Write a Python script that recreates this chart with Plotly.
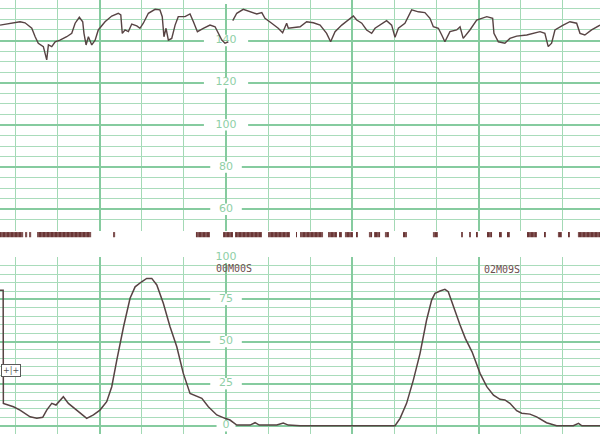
import plotly.graph_objects as go

# 태동/심박 기록지 재현 (x: 초, 0 = 00M00S)

# FHR (bpm)
fhr_t = [-107.4, -102.6, -97.9, -95.5, -92.3, -90.7, -89.2, -86.8, -85.2, -84.4,
         -82.8, -81.2, -78.9, -75.7, -73.3, -71.7, -69.7, -68.1, -67.5, -66.5,
         -65.4, -63.8, -62.2, -60.7, -57.5, -54.3, -51.2, -50.0, -49.3, -48.0,
         -46.4, -44.8, -42.4, -40.9, -39.3, -36.9, -33.7, -31.4, -30.3, -29.5,
         -28.5, -27.4, -25.8, -24.2, -22.7, -19.5, -17.1, -15.5, -13.6, -10.8,
         -7.6, -5.2, -3.7, -2.0, -0.5, 1.1, 2.2,
         3.2, 5.1, 8.2, 11.4, 14.6, 17.0, 18.5, 21.7, 24.8, 26.9,
         28.8, 29.6, 35.2, 38.3, 41.5, 44.7, 47.8, 49.7, 51.8, 55.0,
         58.1, 60.5, 62.1, 64.5, 66.8, 69.2, 70.8, 73.2, 76.3, 78.7,
         80.3, 81.9, 85.0, 88.2, 91.4, 94.5, 96.9, 98.5, 100.9, 102.5,
         104.0, 106.4, 109.6, 111.2, 112.7, 115.9, 119.1, 121.5, 123.9, 126.7,
         127.3, 129.4, 132.5, 134.9, 138.1, 142.9, 146.0, 149.2, 151.5, 153.1,
         154.7, 156.3, 160.2, 163.4, 166.6, 168.2, 170.5, 173.7, 177.7]
fhr_bpm = [147.3, 148.2, 148.9, 148.4, 145.8, 141.8, 138.7, 137.1, 130.8, 137.9,
           137.1, 139.4, 140.2, 141.8, 143.4, 148.2, 151.0, 148.9, 143.4, 137.9,
           141.8, 137.9, 140.2, 145.0, 148.9, 151.6, 152.9, 152.1, 143.4, 145.0,
           144.2, 147.8, 146.9, 145.8, 148.2, 152.9, 154.8, 154.5, 151.3, 141.8,
           145.8, 140.2, 141.0, 147.3, 151.3, 151.3, 152.6, 148.9, 144.2, 145.8,
           147.3, 146.5, 143.4, 140.2, 138.7, 139.4, None,
           149.4, 152.9, 154.8, 153.6, 152.6, 153.2, 150.5, 148.2, 145.8, 143.7,
           148.2, 145.8, 146.5, 148.9, 148.4, 147.3, 143.4, 139.4, 144.2, 147.3,
           149.7, 151.6, 149.7, 148.2, 145.0, 143.4, 145.8, 147.3, 149.4, 147.3,
           141.5, 145.8, 148.2, 154.5, 153.6, 153.2, 150.5, 146.5, 145.8, 142.6,
           139.4, 144.2, 145.0, 146.5, 141.0, 145.0, 149.7, 150.5, 151.3, 150.5,
           143.4, 139.4, 138.7, 141.0, 142.1, 142.6, 143.4, 144.2, 143.4, 137.1,
           138.7, 145.0, 147.3, 148.9, 148.2, 143.4, 142.6, 145.0, 147.3]

# UA (자궁수축)
ua_t = [-107.4, -105.9, -105.8, -101.0, -97.9, -93.1, -89.9, -87.1, -85.2, -82.8,
        -80.8, -78.9, -77.3, -74.9, -70.9, -66.2, -63.0, -59.9, -56.7, -54.3,
        -51.9, -48.7, -45.6, -43.2, -40.1, -37.7, -35.3, -32.9, -29.8, -26.6,
        -23.4, -20.3, -17.1, -13.9, -11.5, -8.4, -4.4, -0.5, 1.9, 5.1,
        11.4, 13.8, 15.8, 24.1, 27.2, 29.6, 35.2, 80.3, 82.7, 85.8,
        89.0, 92.2, 95.3, 97.7, 99.3, 101.7, 104.0, 105.6, 108.0, 111.2,
        113.7, 116.9, 120.7, 123.9, 127.1, 130.2, 132.5, 134.9, 138.1, 140.5,
        144.4, 147.6, 152.3, 157.1, 165.0, 167.5, 169.1, 177.7]
ua_val = [80.5, 80.5, 13.3, 11.3, 9.3, 5.3, 4.4, 5.0, 9.3, 13.3,
          12.3, 15.3, 17.2, 13.3, 9.3, 4.4, 6.4, 9.3, 14.3, 23.2,
          39.0, 58.8, 75.7, 82.5, 85.5, 87.5, 87.5, 83.6, 72.7, 58.8,
          46.9, 31.1, 19.2, 17.6, 16.3, 11.3, 6.4, 4.4, 3.4, 0.4,
          0.4, 1.8, 0.4, 0.4, 1.6, 0.4, 0.0, 0.0, 4.4, 13.3,
          27.1, 43.0, 62.8, 74.6, 78.6, 80.0, 81.0, 79.6, 70.7, 59.8,
          51.9, 43.9, 31.1, 23.2, 18.2, 15.7, 15.3, 13.3, 8.9, 7.4,
          6.9, 5.3, 1.8, 0.0, 0.0, 1.4, 0.0, 0.0]

# 태동 마크 (시작, 끝)
mv_start = [-107.4, -95.5, -93.6, -89.8, -53.7, -14.3, -1.4, 4.3, 20.0, 33.3,
            35.2, 48.5, 53.7, 56.5, 62.2, 67.9, 70.3, 75.5, 84.1, 98.3,
            112.1, 115.9, 119.2, 124.0, 129.7, 133.5, 143.0, 151.1, 157.7, 162.5, 167.2]
mv_end = [-96.4, -94.5, -92.6, -64.1, -52.7, -7.6, 3.3, 17.1, 30.4, 33.7,
          46.1, 52.7, 55.1, 60.3, 62.7, 69.4, 73.2, 77.4, 86.0, 100.7,
          112.6, 116.4, 119.7, 126.4, 131.1, 134.9, 147.7, 152.0, 159.6, 163.4, 177.7]

fhr_labels = [60, 80, 100, 120, 140, 160]
ua_labels = [0, 25, 50, 75, 100]

time_text = ['00M00S', '02M09S']
time_x = [3.6, 131.1]
time_y = [93.2, 92.5]

x_range = [-107.4, 177.7]
grid_major = '#86cb9f'
grid_minor = '#a9dcbb'
grid_minor_x = '#a3d9b5'
label_green = '#8fcfa6'
ink = '#574343'

fig = go.Figure()

# 눈금 숫자 (격자 위에 흰 바탕)
shapes = []
for v in fhr_labels:
    hw = 3.0 * len(str(v)) + 1.5
    shapes.append(dict(type='rect', xref='x2', yref='y2', x0=-hw, x1=hw,
                       y0=v - 2.7, y1=v + 2.7, fillcolor='white', line_width=0,
                       layer='between'))
for v in ua_labels:
    hw = 3.0 * len(str(v)) + 1.5
    shapes.append(dict(type='rect', xref='x', yref='y', x0=-hw, x1=hw,
                       y0=v - 3.4, y1=v + 3.4, fillcolor='white', line_width=0,
                       layer='between'))

fig.add_trace(go.Scatter(
    x=[0] * len(fhr_labels), y=fhr_labels, text=[str(v) for v in fhr_labels],
    mode='text', textfont=dict(color=label_green, size=11, family='DejaVu Sans'),
    cliponaxis=False, hoverinfo='skip', xaxis='x2', yaxis='y2'))
fig.add_trace(go.Scatter(
    x=[0] * len(ua_labels), y=ua_labels, text=[str(v) for v in ua_labels],
    mode='text', textfont=dict(color=label_green, size=11, family='DejaVu Sans'),
    cliponaxis=False, hoverinfo='skip', xaxis='x', yaxis='y'))

# FHR
fig.add_trace(go.Scatter(
    x=fhr_t, y=fhr_bpm, mode='lines', connectgaps=False,
    line=dict(color=ink, width=1.4), xaxis='x2', yaxis='y2'))

# UA
fig.add_trace(go.Scatter(
    x=ua_t, y=ua_val, mode='lines',
    line=dict(color=ink, width=1.5), xaxis='x', yaxis='y'))

# 태동 (줄무늬 마크)
fig.add_trace(go.Bar(
    x=[(a + b) / 2 for a, b in zip(mv_start, mv_end)],
    width=[b - a for a, b in zip(mv_start, mv_end)],
    y=[0.2] * len(mv_start), base=0.76,
    marker=dict(color='#6a3535', line_width=0,
                pattern=dict(shape='|', fillmode='overlay', fgcolor='#ffffff',
                             size=4, solidity=0.15)),
    xaxis='x3', yaxis='y3'))

for t, x, y in zip(time_text, time_x, time_y):
    fig.add_annotation(x=x, y=y, xref='x', yref='y', text=t, showarrow=False,
                       font=dict(family='DejaVu Sans Mono', size=10, color='#6b4e4e'))

# UA zero 표시
fig.add_annotation(x=-102.1, y=33.1, xref='x', yref='y', text='+|+', showarrow=False,
                   font=dict(family='DejaVu Sans', size=8, color='#555555'),
                   bordercolor='#5a5a5a', borderwidth=1, borderpad=1, bgcolor='white')

x_common = dict(
    range=x_range, showticklabels=False, zeroline=False, ticks='',
    tick0=0, dtick=60, showgrid=True, gridcolor=grid_major, gridwidth=2,
    minor=dict(dtick=20, tick0=0, showgrid=True, gridcolor=grid_minor_x, gridwidth=1))

fig.update_layout(
    width=600, height=434,
    margin=dict(l=0, r=0, t=0, b=0),
    paper_bgcolor='white', plot_bgcolor='white',
    showlegend=False,
    shapes=shapes,
    xaxis=dict(anchor='y', **x_common),
    xaxis2=dict(anchor='y2', matches='x', **x_common),
    xaxis3=dict(anchor='y3', matches='x', range=x_range, showgrid=False,
                showticklabels=False, zeroline=False),
    yaxis=dict(domain=[0, 0.4078], range=[-4.9, 100.2], showticklabels=False,
               zeroline=False, tick0=0, dtick=25, showgrid=True,
               gridcolor=grid_major, gridwidth=2,
               minor=dict(dtick=5, tick0=0, showgrid=True, gridcolor=grid_minor, gridwidth=1)),
    yaxis2=dict(domain=[0.4677, 1], range=[49.7, 159.2], showticklabels=False,
                zeroline=False, tick0=0, dtick=20, showgrid=True,
                gridcolor=grid_major, gridwidth=2,
                minor=dict(dtick=5, tick0=0, showgrid=True, gridcolor=grid_minor, gridwidth=1)),
    yaxis3=dict(domain=[0.4078, 0.4677], range=[0, 1], showgrid=False,
                showticklabels=False, zeroline=False),
)

# 페이지 기본 여백 제거
fig.write_html("out.html", config={'displayModeBar': False},
               post_script="document.body.style.margin='0';")
